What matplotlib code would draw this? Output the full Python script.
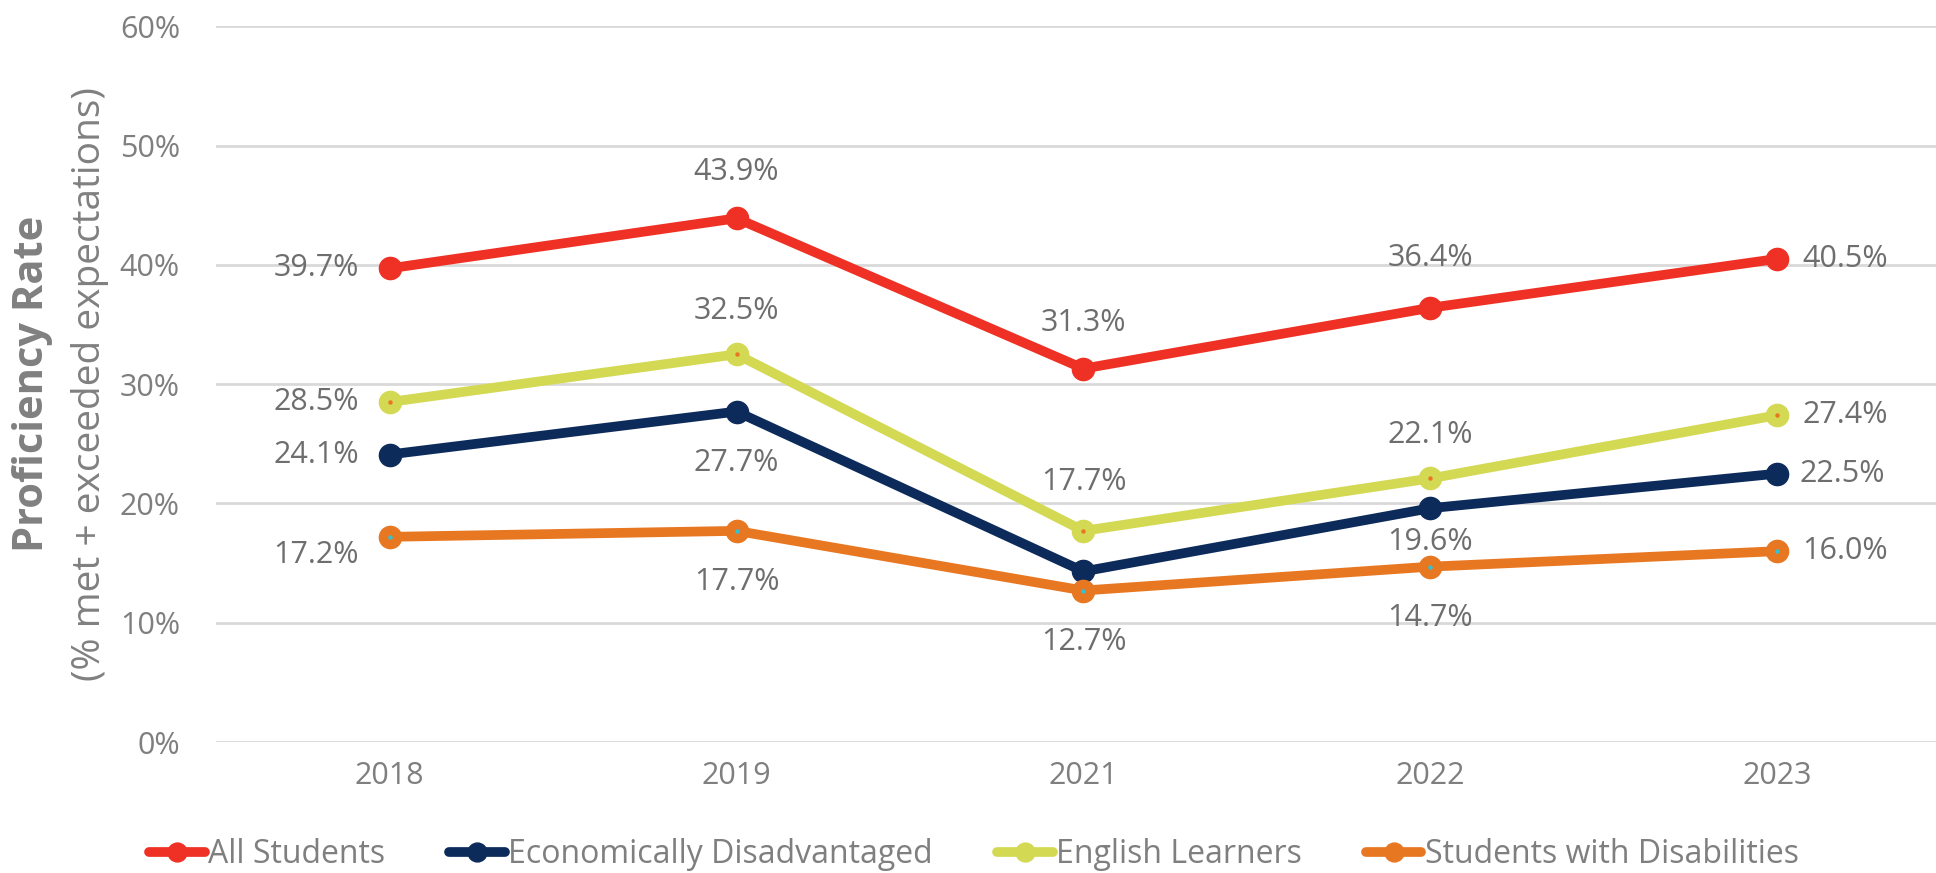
import matplotlib.pyplot as plt

plt.rcParams['font.family'] = ['Open Sans', 'DejaVu Sans']

years = ["2018", "2019", "2021", "2022", "2023"]
all_students = [39.7, 43.9, 31.3, 36.4, 40.5]
econ_dis = [24.1, 27.7, 14.3, 19.6, 22.5]
english_learners = [28.5, 32.5, 17.7, 22.1, 27.4]
disabilities = [17.2, 17.7, 12.7, 14.7, 16.0]

# label placement per point: (dx, dy, ha) in points, None = no label
all_pos = [(-22, 0, 'right'), (0, 33, 'center'), (0, 33, 'center'), (0, 36, 'center'), (18, 0, 'left')]
econ_pos = [(-22, 0, 'right'), (0, -37, 'center'), None, (0, -24, 'center'), (16, 0, 'left')]
el_pos = [(-22, 0, 'right'), (0, 31, 'center'), (0, 35, 'center'), (0, 31, 'center'), (18, 0, 'left')]
swd_pos = [(-22, -13, 'right'), (0, -37, 'center'), (0, -37, 'center'), (0, -37, 'center'), (18, 0, 'left')]

series = [
    ("All Students", all_students, "#EE3124", None, all_pos),
    ("Economically Disadvantaged", econ_dis, "#0D2B5A", None, econ_pos),
    ("English Learners", english_learners, "#D4D954", "#E87722", el_pos),
    ("Students with Disabilities", disabilities, "#E87722", "#2EC4D6", swd_pos),
]

fig = plt.figure(figsize=(19.36, 8.73), dpi=100)
ax = fig.add_axes([0.1116, 0.150, 0.8884, 0.820])

x = list(range(len(years)))
handles = []
for name, vals, color, dot, pos in series:
    h, = ax.plot(x, vals, color=color, lw=7, marker='o', ms=16,
                 solid_capstyle='round', label=name, zorder=3)
    handles.append(h)
    if dot:
        ax.plot(x, vals, ls='none', marker='o', ms=2.2, color=dot, zorder=4)
    for xi, v, p in zip(x, vals, pos):
        if p is None:
            continue
        dx, dy, ha = p
        ax.annotate(f"{v:.1f}%", (xi, v), xytext=(dx, dy), textcoords='offset points',
                    ha=ha, va='center', fontsize=22, color='#6e6e6e')

ax.set_xlim(-0.5, 4.457)
ax.set_ylim(0, 60)
ax.set_yticks(range(0, 61, 10))
ax.set_yticklabels([f"{t}%" for t in range(0, 61, 10)])
ax.set_xticks(x)
ax.set_xticklabels(years)
ax.tick_params(length=0, labelsize=22, labelcolor='#7f7f7f', pad=14)
ax.tick_params(axis='y', pad=26)
ax.grid(axis='y', color='#d9d9d9', lw=2)
ax.set_axisbelow(True)
for s in ax.spines.values():
    s.set_visible(False)

fig.text(0.017, 0.56, "Proficiency Rate", rotation=90, ha='center', va='center',
         fontsize=30, fontweight='bold', color='#808080')
fig.text(0.0465, 0.56, "(% met + exceeded expectations)", rotation=90, ha='center',
         va='center', fontsize=28, color='#808080')

leg = fig.legend(handles=handles, loc='center', bbox_to_anchor=(0.503, 0.021), ncol=4,
                 frameon=False, fontsize=23, handlelength=1.75, handletextpad=0.1,
                 columnspacing=2.0, markerscale=0.85)
for t in leg.get_texts():
    t.set_color('#7f7f7f')

fig.savefig("out.png", dpi=100)
